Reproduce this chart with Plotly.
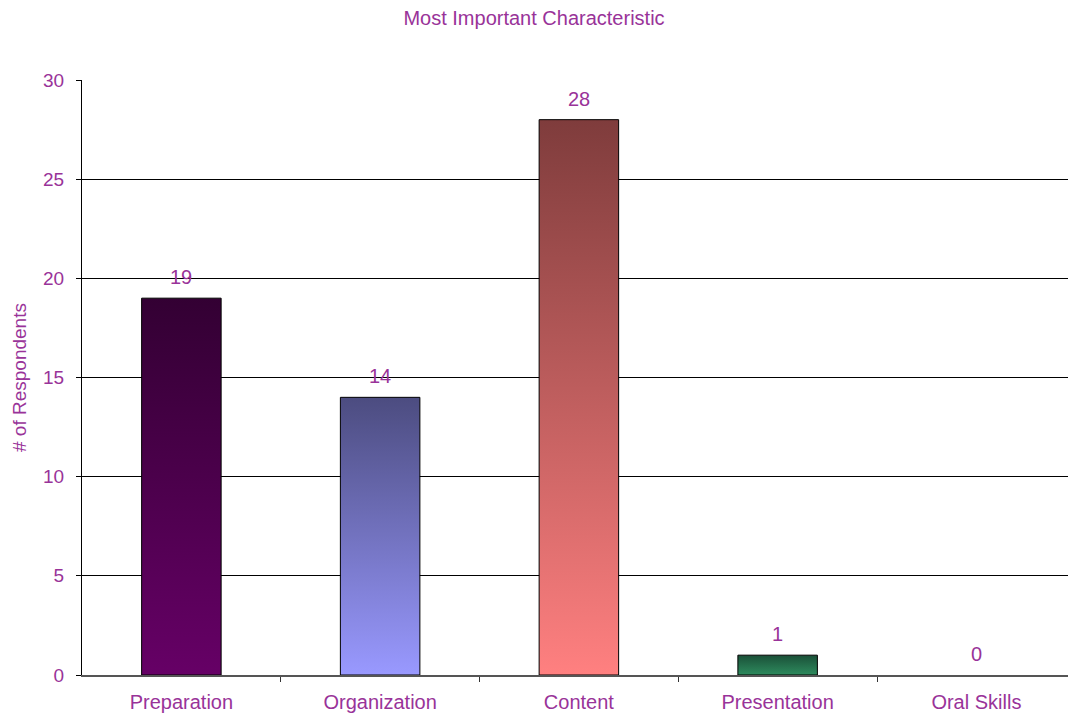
import plotly.graph_objects as go

categories = ["Preparation", "Organization", "Content", "Presentation", "Oral Skills"]
values = [19, 14, 28, 1, 0]
bottom_colors = ["#660066", "#9999ff", "#ff8080", "#2e8b5e", "#cccccc"]
top_colors = ["#330033", "#4c4c80", "#7f3c3c", "#1a5038", "#cccccc"]
y_ticks = [0, 5, 10, 15, 20, 25, 30]

TXT = "#993399"
FONT = "Liberation Sans, Arial, sans-serif"
half = 0.2

fig = go.Figure()
for i, (cat, v) in enumerate(zip(categories, values)):
    if v <= 0:
        continue
    fig.add_trace(go.Scatter(
        x=[i - half, i + half, i + half, i - half, i - half],
        y=[0, 0, v, v, 0],
        mode="lines", fill="toself",
        line=dict(color="black", width=1),
        fillgradient=dict(type="vertical", start=0, stop=v,
                          colorscale=[[0, bottom_colors[i]], [1, top_colors[i]]]),
        name=cat, showlegend=False, hoverinfo="skip",
    ))

for i, v in enumerate(values):
    fig.add_annotation(x=i, y=v, text=str(v), showarrow=False,
                       yanchor="bottom", yshift=8,
                       font=dict(family=FONT, size=20, color=TXT))

fig.update_layout(
    width=1068, height=717,
    margin=dict(l=82, r=0, t=80, b=42),
    paper_bgcolor="white", plot_bgcolor="white",
    title=dict(text="Most Important Characteristic", x=0.5, xanchor="center",
               y=0.985, yanchor="top",
               font=dict(family=FONT, size=20, color=TXT)),
    showlegend=False,
)
fig.update_xaxes(
    range=[-0.5, 4.461], tickvals=list(range(len(categories))), ticktext=categories,
    ticks="", showgrid=False, zeroline=False,
    showline=True, linecolor="#555555", linewidth=2,
    tickfont=dict(family=FONT, size=20, color=TXT),
    ticklabelstandoff=8,
    minor=dict(tickvals=[0.5, 1.5, 2.5, 3.5], ticks="outside", ticklen=5,
               tickcolor="#333333", showgrid=False),
    fixedrange=True,
)
fig.update_yaxes(
    range=[0, 30], tickvals=y_ticks, ticks="outside", ticklen=5, tickcolor="black",
    showgrid=True, gridcolor="black", gridwidth=1, zeroline=False,
    showline=True, linecolor="black", linewidth=1,
    tickfont=dict(family=FONT, size=19, color=TXT),
    ticklabelstandoff=8,
    title=dict(text="# of Respondents", font=dict(family=FONT, size=19, color=TXT), standoff=11),
    fixedrange=True,
)

fig.write_html("out.html")
